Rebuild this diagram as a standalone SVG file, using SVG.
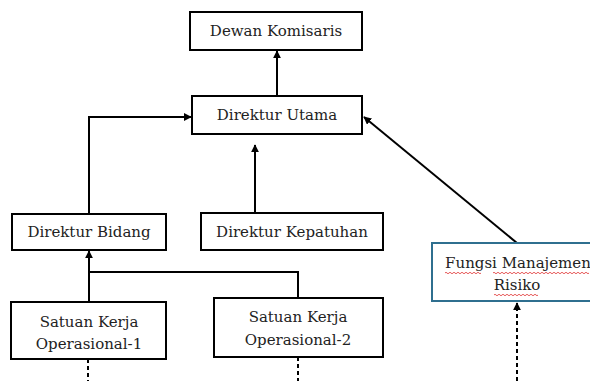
<svg xmlns="http://www.w3.org/2000/svg" width="590" height="381" viewBox="0 0 590 381">
  <defs>
    <marker id="arrow" viewBox="0 0 10 10" refX="9" refY="5" markerWidth="4" markerHeight="4" orient="auto-start-reverse" markerUnits="strokeWidth">
      <path d="M0,0 L10,5 L0,10 Z" fill="#000"/>
    </marker>
  </defs>
  <style>
    .box { fill: #fff; stroke: #000; stroke-width: 2; }
    .risk { fill: #fff; stroke: #2f6f8f; stroke-width: 2; }
    .lbl { font-family: "DejaVu Serif", "Liberation Serif", serif; font-size: 15px; fill: #222; text-anchor: middle; }
    .edge { fill: none; stroke: #000; stroke-width: 2; }
    .dash { fill: none; stroke: #000; stroke-width: 2; stroke-dasharray: 4 3; }
    .squiggle { fill: none; stroke: #e03030; stroke-width: 0.8; }
  </style>

  <rect width="590" height="381" fill="#fff"/>

  <g id="connectors">
    <!-- Direktur Utama to Dewan Komisaris -->
    <line class="edge" x1="277" y1="96" x2="277" y2="51" marker-end="url(#arrow)"/>
    <!-- Direktur Bidang to Direktur Utama -->
    <polyline class="edge" points="89,214 89,117 191,117" marker-end="url(#arrow)"/>
    <!-- Direktur Kepatuhan to Direktur Utama -->
    <line class="edge" x1="255" y1="213" x2="255" y2="145" marker-end="url(#arrow)"/>
    <!-- Fungsi Manajemen Risiko to Direktur Utama -->
    <line class="edge" x1="517" y1="243" x2="364" y2="117" marker-end="url(#arrow)"/>
    <!-- Satuan Kerja units to Direktur Bidang -->
    <line class="edge" x1="89" y1="302" x2="89" y2="251" marker-end="url(#arrow)"/>
    <polyline class="edge" points="89,272 298,272 298,298"/>
    <!-- dashed links below -->
    <line class="dash" x1="88" y1="359" x2="88" y2="381"/>
    <line class="dash" x1="298" y1="357" x2="298" y2="381"/>
    <line class="dash" x1="517" y1="381" x2="517" y2="303" marker-end="url(#arrow)"/>
  </g>

  <g id="dewan-komisaris">
    <rect class="box" x="190" y="12" width="172" height="38"/>
    <text class="lbl" x="276" y="36">Dewan Komisaris</text>
  </g>

  <g id="direktur-utama">
    <rect class="box" x="192" y="96" width="170" height="38"/>
    <text class="lbl" x="277" y="120">Direktur Utama</text>
  </g>

  <g id="direktur-bidang">
    <rect class="box" x="12" y="214" width="154" height="36"/>
    <text class="lbl" x="89" y="237">Direktur Bidang</text>
  </g>

  <g id="direktur-kepatuhan">
    <rect class="box" x="201" y="213" width="182" height="37"/>
    <text class="lbl" x="292" y="237">Direktur Kepatuhan</text>
  </g>

  <g id="fungsi-manajemen-risiko">
    <rect class="risk" x="432" y="243" width="170" height="58"/>
    <text class="lbl" x="518" y="268">Fungsi Manajemen</text>
    <text class="lbl" x="517" y="290">Risiko</text>
    <path class="squiggle" d="M445,273 q1,-1.5 2,0 t2,0 t2,0 t2,0 t2,0 t2,0 t2,0 t2,0 t2,0 t2,0 t2,0 t2,0 t2,0 t2,0 t2,0 t2,0 t2,0 t2,0"/>
    <path class="squiggle" d="M493,273 q1,-1.5 2,0 t2,0 t2,0 t2,0 t2,0 t2,0 t2,0 t2,0 t2,0 t2,0 t2,0 t2,0 t2,0 t2,0 t2,0 t2,0 t2,0 t2,0 t2,0 t2,0 t2,0 t2,0 t2,0 t2,0 t2,0 t2,0 t2,0 t2,0 t2,0 t2,0 t2,0 t2,0 t2,0 t2,0 t2,0 t2,0 t2,0 t2,0 t2,0 t2,0 t2,0 t2,0 t2,0 t2,0 t2,0 t2,0 t2,0 t2,0"/>
    <path class="squiggle" d="M494,295 q1,-1.5 2,0 t2,0 t2,0 t2,0 t2,0 t2,0 t2,0 t2,0 t2,0 t2,0 t2,0 t2,0 t2,0 t2,0 t2,0 t2,0 t2,0 t2,0 t2,0 t2,0 t2,0 t2,0"/>
  </g>

  <g id="satuan-kerja-1">
    <rect class="box" x="11" y="302" width="155" height="57"/>
    <text class="lbl" x="89" y="327">Satuan Kerja</text>
    <text class="lbl" x="89" y="349">Operasional-1</text>
  </g>

  <g id="satuan-kerja-2">
    <rect class="box" x="214" y="298" width="169" height="59"/>
    <text class="lbl" x="298" y="322">Satuan Kerja</text>
    <text class="lbl" x="298" y="345">Operasional-2</text>
  </g>
</svg>
